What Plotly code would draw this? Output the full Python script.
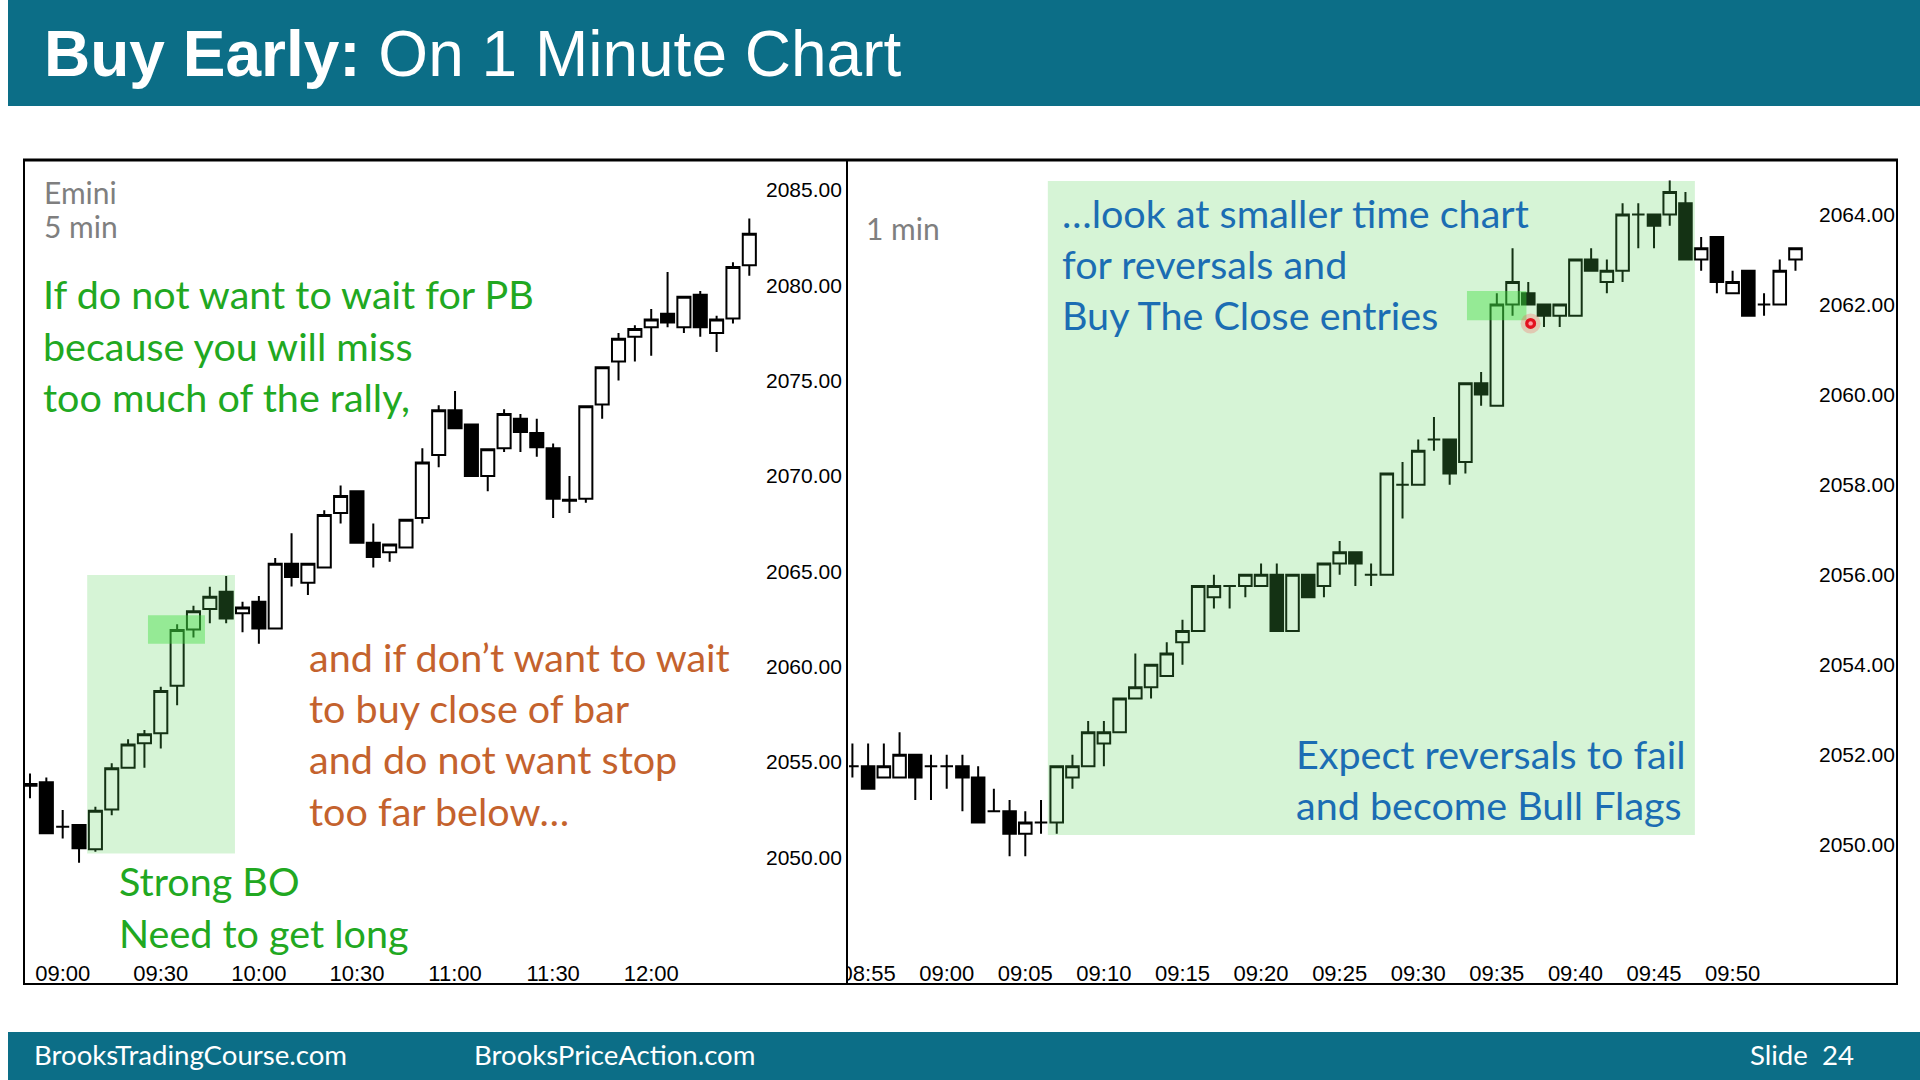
import plotly.graph_objects as go

W, H = 1920, 1080
DAY = "2015-06-01 "

# ---------------- 5-minute Emini chart ----------------
t5 = ["08:50", "08:55", "09:00", "09:05", "09:10", "09:15", "09:20", "09:25", "09:30", "09:35",
      "09:40", "09:45", "09:50", "09:55", "10:00", "10:05", "10:10", "10:15", "10:20", "10:25",
      "10:30", "10:35", "10:40", "10:45", "10:50", "10:55", "11:00", "11:05", "11:10", "11:15",
      "11:20", "11:25", "11:30", "11:35", "11:40", "11:45", "11:50", "11:55", "12:00", "12:05",
      "12:10", "12:15", "12:20", "12:25", "12:30"]
o5 = [2053.75, 2053.93, 2051.6, 2051.69, 2050.42, 2052.51, 2054.70, 2055.98, 2056.5, 2059.0,
      2061.95, 2063.02, 2063.93, 2062.8, 2063.4, 2062.0, 2065.4, 2064.4, 2065.2, 2068.05,
      2069.2, 2066.5, 2066.0, 2066.25, 2067.8, 2071.1, 2073.45, 2072.7, 2070.0, 2071.45,
      2073.0, 2072.25, 2071.45, 2068.7, 2068.8, 2073.75, 2076.0, 2077.3, 2077.8, 2078.5,
      2077.8, 2079.5, 2077.5, 2078.25, 2081.05]
h5 = [2054.4, 2054.19, 2052.48, 2051.69, 2052.65, 2054.93, 2056.19, 2056.67, 2058.94, 2062.22,
      2063.19, 2064.19, 2064.75, 2063.4, 2063.7, 2065.7, 2067.0, 2065.4, 2068.2, 2069.5,
      2069.2, 2067.5, 2066.4, 2067.7, 2071.45, 2073.7, 2074.45, 2072.7, 2071.4, 2073.5,
      2073.25, 2073.0, 2071.7, 2070.0, 2073.65, 2075.7, 2077.5, 2077.9, 2078.75, 2080.7,
      2079.4, 2079.7, 2078.4, 2081.2, 2083.5]
l5 = [2053.1, 2051.26, 2050.99, 2049.71, 2050.29, 2052.21, 2054.70, 2054.70, 2055.71, 2057.98,
      2061.53, 2062.27, 2062.27, 2061.8, 2061.2, 2062.0, 2064.2, 2063.75, 2065.2, 2067.5,
      2066.5, 2065.2, 2065.5, 2066.25, 2067.5, 2070.45, 2072.5, 2070.0, 2069.2, 2071.25,
      2071.25, 2071.0, 2067.8, 2068.05, 2068.6, 2073.0, 2075.0, 2076.0, 2076.3, 2077.8,
      2077.5, 2077.3, 2076.5, 2078.0, 2080.5]
c5 = [2053.85, 2051.26, 2051.6, 2050.47, 2052.44, 2054.67, 2055.92, 2056.45, 2058.72, 2061.92,
      2062.91, 2063.66, 2062.53, 2063.1, 2062.0, 2065.4, 2064.7, 2065.4, 2067.95, 2068.95,
      2066.5, 2065.75, 2066.4, 2067.7, 2070.7, 2073.45, 2072.5, 2070.0, 2071.4, 2073.25,
      2072.3, 2071.5, 2068.8, 2068.75, 2073.65, 2075.7, 2077.2, 2077.7, 2078.2, 2078.05,
      2079.4, 2077.8, 2078.2, 2080.95, 2082.7]
price_ticks5 = [2050, 2055, 2060, 2065, 2070, 2075, 2080, 2085]
time_ticks5 = ["09:00", "09:30", "10:00", "10:30", "11:00", "11:30", "12:00"]

# ---------------- 1-minute chart ----------------
t1 = ["08:54", "08:55", "08:56", "08:57", "08:58", "08:59", "09:00", "09:01", "09:02", "09:03",
      "09:04", "09:05", "09:06", "09:07", "09:08", "09:09", "09:10", "09:11", "09:12", "09:13",
      "09:14", "09:15", "09:16", "09:17", "09:18", "09:19", "09:20", "09:21", "09:22", "09:23",
      "09:24", "09:25", "09:26", "09:27", "09:28", "09:29", "09:30", "09:31", "09:32", "09:33",
      "09:34", "09:35", "09:36", "09:37", "09:38", "09:39", "09:40", "09:41", "09:42", "09:43",
      "09:44", "09:45", "09:46", "09:47", "09:48", "09:49", "09:50", "09:51", "09:52", "09:53",
      "09:54"]
o1 = [2051.75, 2051.75, 2051.5, 2051.5, 2052.0, 2051.75, 2051.75, 2051.75, 2051.5, 2050.75,
      2050.75, 2050.25, 2050.5, 2050.5, 2051.5, 2051.75, 2052.25, 2052.5, 2053.25, 2053.5,
      2053.75, 2054.5, 2054.75, 2055.5, 2055.75, 2055.75, 2055.75, 2056.0, 2054.75, 2056.0,
      2055.75, 2056.25, 2056.5, 2056.0, 2056.0, 2058.0, 2058.0, 2059.0, 2059.0, 2058.5,
      2060.25, 2059.75, 2062.0, 2062.25, 2062.0, 2061.75, 2061.75, 2063.0, 2062.5, 2062.75,
      2064.0, 2064.0, 2064.0, 2064.25, 2063.0, 2063.5, 2062.25, 2062.75, 2062.0, 2062.0,
      2063.0]
h1 = [2052.25, 2052.25, 2052.25, 2052.5, 2052.0, 2052.0, 2052.0, 2052.0, 2051.75, 2051.25,
      2051.0, 2050.75, 2051.0, 2051.75, 2052.0, 2052.75, 2052.75, 2053.25, 2054.25, 2054.0,
      2054.5, 2055.0, 2055.75, 2056.0, 2055.75, 2056.0, 2056.25, 2056.25, 2056.0, 2056.0,
      2056.25, 2056.75, 2056.5, 2056.25, 2058.25, 2058.5, 2059.0, 2059.5, 2059.0, 2060.25,
      2060.5, 2062.25, 2063.25, 2062.5, 2062.0, 2062.0, 2063.0, 2063.25, 2063.0, 2064.25,
      2064.25, 2064.0, 2064.75, 2064.5, 2063.5, 2063.5, 2062.75, 2062.75, 2062.25, 2063.0,
      2063.25]
l1 = [2051.5, 2051.25, 2051.5, 2051.5, 2051.0, 2051.0, 2051.25, 2050.75, 2050.5, 2050.75,
      2049.75, 2049.75, 2050.25, 2050.25, 2051.25, 2051.75, 2051.75, 2052.5, 2053.25, 2053.25,
      2053.75, 2054.0, 2054.75, 2055.25, 2055.25, 2055.5, 2055.75, 2054.75, 2054.75, 2055.5,
      2055.5, 2056.0, 2055.75, 2055.75, 2056.0, 2057.25, 2058.0, 2058.75, 2058.0, 2058.25,
      2059.75, 2059.75, 2061.75, 2062.0, 2061.5, 2061.5, 2061.75, 2062.75, 2062.25, 2062.5,
      2063.25, 2063.25, 2063.75, 2063.0, 2062.75, 2062.25, 2062.25, 2061.75, 2061.75, 2062.0,
      2062.75]
c1 = [2051.75, 2051.25, 2051.75, 2052.0, 2051.5, 2051.75, 2051.75, 2051.5, 2050.5, 2050.75,
      2050.25, 2050.5, 2050.5, 2051.75, 2051.75, 2052.5, 2052.5, 2053.25, 2053.5, 2054.0,
      2054.25, 2054.75, 2055.75, 2055.75, 2055.75, 2056.0, 2056.0, 2054.75, 2056.0, 2055.5,
      2056.25, 2056.5, 2056.25, 2056.0, 2058.25, 2058.0, 2058.75, 2059.0, 2058.25, 2060.25,
      2060.0, 2062.0, 2062.5, 2062.0, 2061.75, 2062.0, 2063.0, 2062.75, 2062.75, 2064.0,
      2064.0, 2063.75, 2064.5, 2063.0, 2063.25, 2062.5, 2062.5, 2061.75, 2062.0, 2062.75,
      2063.25]
price_ticks1 = [2050, 2052, 2054, 2056, 2058, 2060, 2062, 2064]
time_ticks1 = ["08:55", "09:00", "09:05", "09:10", "09:15", "09:20", "09:25", "09:30", "09:35",
               "09:40", "09:45", "09:50"]

# highlighted zones (time from, time to, price low, price high)
zone5 = ("09:07:30", "09:52:41", 2050.2, 2064.8)
entry5 = ("09:26:05", "09:43:31", 2061.2, 2062.7)
zone1 = ("09:06:26", "09:47:36", 2050.22, 2064.74)
entry1 = ("09:33:06", "09:36:53", 2061.65, 2062.3)
cursor1 = ("09:37:09", 2061.58)

TEAL = "#0c6e87"
GREEN_TXT = "#21a821"
ORANGE_TXT = "#c4622d"
BLUE_TXT = "#1b6db3"
GRAY_TXT = "#7f7f7f"
TXT_FONT = "Lato, Noto Sans, sans-serif"
ARIAL = "Liberation Sans, Arial, sans-serif"

# horizontal calibration of the capture (page appears offset ~8px and slightly compressed)
X_OFF, X_SPAN = 8, 1912


def px(x):
    return (x - X_OFF) / X_SPAN


def py(y):
    return 1 - y / H


candle_style = dict(
    increasing=dict(line=dict(color="black", width=2), fillcolor="white"),
    decreasing=dict(line=dict(color="black", width=2), fillcolor="black"),
    showlegend=False, hoverinfo="skip",
)

fig = go.Figure()
fig.add_trace(go.Candlestick(x=[DAY + t for t in t5], open=o5, high=h5, low=l5, close=c5,
                             xaxis="x", yaxis="y", **candle_style))
fig.add_trace(go.Candlestick(x=[DAY + t for t in t1], open=o1, high=h1, low=l1, close=c1,
                             xaxis="x2", yaxis="y2", **candle_style))

xtickfont = dict(family=ARIAL, size=22, color="black")
ytickfont = dict(family=ARIAL, size=21, color="black")
common_x = dict(type="date", showgrid=False, zeroline=False, showline=False,
                ticks="", tickfont=xtickfont, rangeslider=dict(visible=False), fixedrange=True)
common_y = dict(side="right", tickformat=".2f", showgrid=False, zeroline=False, showline=False,
                ticks="", tickfont=ytickfont, fixedrange=True)

Y_TOP, Y_BOT = 159, 958

fig.update_layout(
    width=W, height=H, margin=dict(l=0, r=0, t=0, b=0),
    paper_bgcolor="white", plot_bgcolor="white",
    boxgap=0.2, boxgroupgap=0, showlegend=False,
    xaxis=dict(common_x, domain=[px(24), px(765)], anchor="y",
               range=[DAY + "08:48:10", DAY + "12:34:48"],
               tickvals=[DAY + t for t in time_ticks5], ticktext=time_ticks5),
    yaxis=dict(common_y, domain=[py(Y_BOT), py(Y_TOP)], anchor="x",
               range=[2044.72, 2086.62], tickvals=price_ticks5),
    xaxis2=dict(common_x, domain=[px(849), px(1818)], anchor="y2",
                range=[DAY + "08:53:47", DAY + "09:55:26"],
                tickvals=[DAY + t for t in time_ticks1], ticktext=time_ticks1),
    yaxis2=dict(common_y, domain=[py(Y_BOT), py(Y_TOP)], anchor="x2",
                range=[2047.49, 2065.23], tickvals=price_ticks1),
)

shapes = []
# header and footer bars
shapes.append(dict(type="rect", xref="paper", yref="paper", x0=0, x1=1, y0=py(106), y1=1,
                   fillcolor=TEAL, line=dict(width=0), layer="below"))
shapes.append(dict(type="rect", xref="paper", yref="paper", x0=0, x1=1, y0=0, y1=py(1032),
                   fillcolor=TEAL, line=dict(width=0), layer="below"))


def zone(xr, yr, z, color):
    return dict(type="rect", xref=xr, yref=yr, x0=DAY + z[0], x1=DAY + z[1], y0=z[2], y1=z[3],
                fillcolor=color, line=dict(width=0), layer="above")


LIGHT = "rgba(83,208,83,0.24)"
BRIGHT = "rgba(60,220,60,0.42)"
shapes.append(zone("x", "y", zone5, LIGHT))
shapes.append(zone("x", "y", entry5, BRIGHT))
shapes.append(zone("x2", "y2", zone1, LIGHT))
shapes.append(zone("x2", "y2", entry1, BRIGHT))


# cursor dot (pixel-sized circles anchored at a data point)
def dot(r, color):
    return dict(type="circle", xref="x2", yref="y2", xsizemode="pixel", ysizemode="pixel",
                xanchor=DAY + cursor1[0], yanchor=cursor1[1], x0=-r, x1=r, y0=-r, y1=r,
                fillcolor=color, line=dict(width=0), layer="above")


shapes.append(dot(10, "rgba(255,70,70,0.25)"))
shapes.append(dot(5.5, "#e3101e"))
shapes.append(dot(2.2, "#ff9aa2"))

# white cover for the clipped first 1-min label
shapes.append(dict(type="rect", xref="paper", yref="paper", x0=px(815), x1=px(847), y0=py(985),
                   y1=py(961), fillcolor="white", line=dict(width=0), layer="above"))
# frames
shapes.append(dict(type="rect", xref="paper", yref="paper", x0=px(24), x1=px(847), y0=py(984),
                   y1=py(160), line=dict(color="black", width=2), layer="above"))
shapes.append(dict(type="rect", xref="paper", yref="paper", x0=px(847), x1=px(1897), y0=py(984),
                   y1=py(160), line=dict(color="black", width=2), layer="above"))
shapes.append(dict(type="line", xref="paper", yref="paper", x0=px(23), x1=px(1898), y0=py(160),
                   y1=py(160), line=dict(color="black", width=3), layer="above"))
fig.update_layout(shapes=shapes)

ann = []


def text(s, x, y, color, size, family=TXT_FONT, xanchor="left"):
    ann.append(dict(text=s, xref="paper", yref="paper", x=px(x), y=py(y), xanchor=xanchor,
                    yanchor="middle", showarrow=False,
                    font=dict(family=family, size=size, color=color)))


text("<b>Buy Early:</b> On 1 Minute Chart", 42, 54, "white", 64, family=ARIAL)
text("BrooksTradingCourse.com", 32, 1054, "white", 27.6)
text("BrooksPriceAction.com", 472, 1054, "white", 27.6)
text("Slide  24", 1748, 1054, "white", 27.6)

text("Emini", 42, 192, GRAY_TXT, 30)
text("5 min", 42, 226, GRAY_TXT, 30)
for i, s in enumerate(["If do not want to wait for PB", "because you will miss",
                       "too much of the rally,"]):
    text(s, 41, 294 + i * 51.4, GREEN_TXT, 39.5)
text("Strong BO", 117, 880, GREEN_TXT, 39.5)
text("Need to get long", 117, 932, GREEN_TXT, 39.5)
for i, s in enumerate(["and if don’t want to wait", "to buy close of bar",
                       "and do not want stop", "too far below…"]):
    text(s, 307, 656 + i * 51.4, ORANGE_TXT, 39.5)

text("1 min", 864, 228, GRAY_TXT, 30)
for i, s in enumerate(["…look at smaller time chart", "for reversals and",
                       "Buy The Close entries"]):
    text(s, 1060, 212 + i * 51.4, BLUE_TXT, 39.5)
text("Expect reversals to fail", 1294, 753, BLUE_TXT, 39.5)
text("and become Bull Flags", 1294, 804, BLUE_TXT, 39.5)

fig.update_layout(annotations=ann)

BG = ("linear-gradient(to bottom, " + TEAL + " 0px, " + TEAL + " 106px, white 106px, "
      "white 1032px, " + TEAL + " 1032px, " + TEAL + " 1080px)")
fig.write_html(
    "out.html",
    config={"displayModeBar": False, "staticPlot": True},
    post_script=("document.documentElement.style.margin='0';"
                 "document.documentElement.style.background='" + BG + "';"
                 "document.body.style.margin='0';document.body.style.padding='0';"
                 "document.body.style.overflow='hidden';"
                 "var d=document.getElementById('{plot_id}');"
                 "d.style.position='fixed';d.style.left='0px';d.style.top='0px';"),
)
